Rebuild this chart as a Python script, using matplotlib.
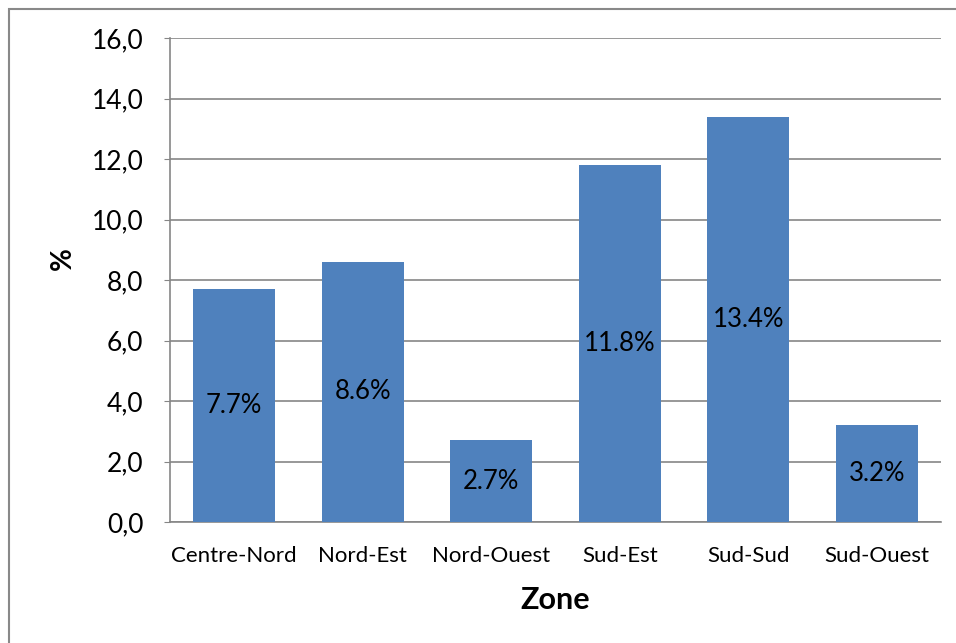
import matplotlib as mpl

mpl.use('Agg')

import matplotlib.pyplot as plt
from matplotlib.patches import Rectangle

zones = ["Centre-Nord", "Nord-Est", "Nord-Ouest", "Sud-Est", "Sud-Sud", "Sud-Ouest"]
values = [7.7, 8.6, 2.7, 11.8, 13.4, 3.2]
y_ticks = [0, 2, 4, 6, 8, 10, 12, 14, 16]


def main():
    plt.rcParams['font.family'] = ['Lato', 'DejaVu Sans']
    fig = plt.figure(figsize=(9.56, 6.43), dpi=100)

    # outer chart border, like the Excel chart frame
    fig.patches.append(Rectangle((9 / 956, -0.1), 1.2, (643 - 9) / 643 + 0.1,
                                 transform=fig.transFigure, fill=False,
                                 edgecolor='#898989', linewidth=1.5))

    ax = fig.add_axes([170 / 956, 121 / 643, 771 / 956, 484 / 643])
    x = range(len(zones))
    bars = ax.bar(x, values, width=0.64, color='#4F81BD', zorder=3)

    for bar, v in zip(bars, values):
        ax.text(bar.get_x() + bar.get_width() / 2, v / 2, "{:.1f}%".format(v),
                ha='center', va='center', fontsize=18.5, color='black', zorder=4)

    ax.set_xlim(-0.5, len(zones) - 0.5)
    ax.set_ylim(0, 16)
    ax.set_yticks(y_ticks)
    ax.set_yticklabels(["{:.1f}".format(t).replace('.', ',') for t in y_ticks],
                       fontsize=19)
    ax.set_xticks(list(x))
    ax.set_xticklabels(zones, fontsize=16)
    ax.tick_params(axis='x', length=0, pad=17)
    ax.tick_params(axis='y', length=4, color='#868686', pad=15)

    ax.grid(axis='y', color='#868686', linewidth=1.2, zorder=0)
    for side in ['top', 'right']:
        ax.spines[side].set_visible(False)
    for side in ['left', 'bottom']:
        ax.spines[side].set_color('#868686')
        ax.spines[side].set_linewidth(1.2)

    ax.set_xlabel("Zone", fontsize=22, fontweight='bold', labelpad=15)
    ax.set_ylabel("%", fontsize=20, fontweight='bold')
    ax.yaxis.set_label_coords(-0.122, 0.545)

    fig.savefig('out.png', dpi=100)


if __name__ == '__main__':
    main()
